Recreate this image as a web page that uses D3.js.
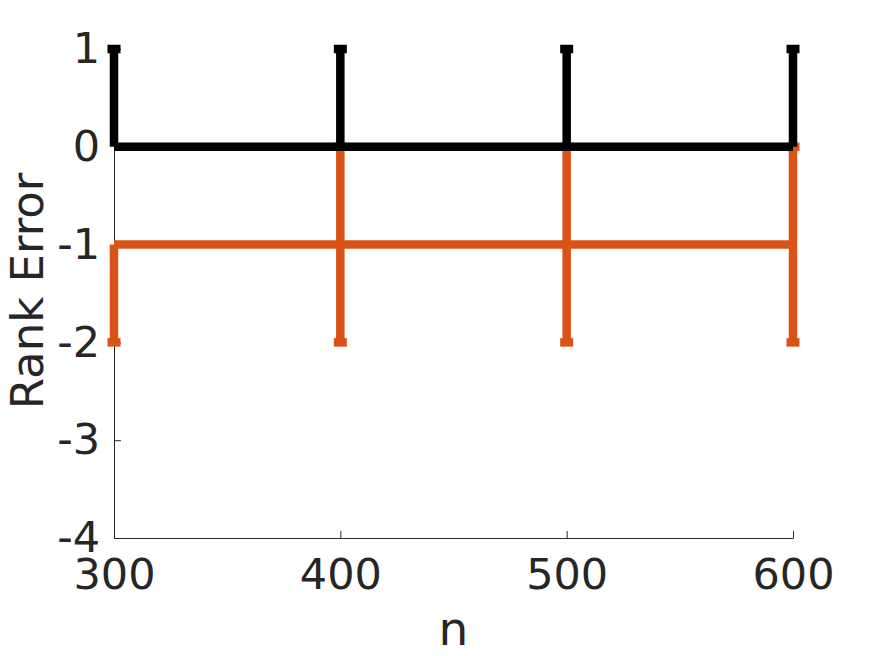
<!DOCTYPE html>
<html>
<head>
<meta charset="utf-8">
<script src="https://cdn.jsdelivr.net/npm/d3@7"></script>
<style>
  body { margin: 0; background: #fff; }
  .tick text { font-family: "DejaVu Sans", sans-serif; fill: #262626; }
  .label { font-family: "DejaVu Sans", sans-serif; fill: #262626; }
</style>
</head>
<body>
<div id="chart"></div>
<script>
const width = 875,
      height = 656,
      margin = {top: 49, right: 82, bottom: 118, left: 114};

const chartWidth = width - margin.left - margin.right,
      chartHeight = height - margin.top - margin.bottom;

// data
const nValues = [300, 400, 500, 600];
const xTicks = [300, 400, 500, 600];
const yTicks = [1, 0, -1, -2, -3, -4];

const blackMean = [0, 0, 0, 0];
const blackLower = [0, 0, 0, 0];
const blackUpper = [1, 1, 1, 1];

const orangeMean = [-1, -1, -1, -1];
const orangeLower = [1, 1, 1, 1];
const orangeUpper = [0, 1, 1, 1];

const series = [
  {color: '#D95319', mean: orangeMean, lower: orangeLower, upper: orangeUpper},
  {color: '#000000', mean: blackMean, lower: blackLower, upper: blackUpper}
];

const svg = d3.select('#chart').append('svg')
    .attr('width', width)
    .attr('height', height);

const chart = svg.append('g')
    .attr('transform', `translate(${margin.left}, ${margin.top})`);

const x = d3.scaleLinear().domain([300, 600]).range([0, chartWidth]);
const y = d3.scaleLinear().domain([-4, 1]).range([chartHeight, 0]);

const lw = 8.5, capHalf = 6.5;

// axes
const xAxis = d3.axisBottom(x)
    .tickValues(xTicks)
    .tickSizeInner(-7)
    .tickSizeOuter(0)
    .tickPadding(18);

const gx = chart.append('g')
    .attr('transform', `translate(0, ${chartHeight})`)
    .call(xAxis);
gx.selectAll('.tick text').style('font-size', '43px').attr('dy', '0.71em').attr('y', 20);

const yAxis = d3.axisLeft(y)
    .tickValues(yTicks)
    .tickSizeInner(-7)
    .tickSizeOuter(0)
    .tickPadding(14)
    .tickFormat(d3.format('d'));

const gy = chart.append('g').call(yAxis);
gy.selectAll('.tick text').style('font-size', '43px');

[gx, gy].forEach(g => {
  g.select('.domain').attr('stroke', '#262626').attr('stroke-width', 1);
  g.selectAll('.tick line').attr('stroke', '#262626').attr('stroke-width', 1);
});
gx.selectAll('.tick text').text(d => d);
gy.selectAll('.tick text').text(d => d < 0 ? '-' + Math.abs(d) : d);

// error bars
series.forEach(s => {
  const g = chart.append('g');
  const pts = nValues.map((n, i) => ({n, m: s.mean[i], lo: s.mean[i] - s.lower[i], hi: s.mean[i] + s.upper[i], l: s.lower[i], u: s.upper[i]}));

  g.append('path')
    .datum(pts)
    .attr('fill', 'none')
    .attr('stroke', s.color)
    .attr('stroke-width', lw)
    .attr('d', d3.line().x(d => x(d.n)).y(d => y(d.m)));

  g.selectAll('.bar')
    .data(pts)
    .enter().append('line')
    .attr('stroke', s.color)
    .attr('stroke-width', lw)
    .attr('x1', d => x(d.n)).attr('x2', d => x(d.n))
    .attr('y1', d => y(d.lo)).attr('y2', d => y(d.hi));

  const caps = [];
  pts.forEach(d => {
    if (d.l > 0) caps.push({n: d.n, v: d.lo});
    if (d.u > 0) caps.push({n: d.n, v: d.hi});
  });
  g.selectAll('.cap')
    .data(caps)
    .enter().append('line')
    .attr('stroke', s.color)
    .attr('stroke-width', lw)
    .attr('x1', d => x(d.n) - capHalf).attr('x2', d => x(d.n) + capHalf)
    .attr('y1', d => y(d.v)).attr('y2', d => y(d.v));
});

// labels
svg.append('text')
    .attr('class', 'label')
    .attr('x', margin.left + chartWidth / 2)
    .attr('y', 645)
    .attr('text-anchor', 'middle')
    .style('font-size', '47px')
    .text('n');

svg.append('text')
    .attr('class', 'label')
    .attr('transform', 'translate(43, 291) rotate(-90)')
    .attr('text-anchor', 'middle')
    .style('font-size', '45px')
    .text('Rank Error');
</script>
</body>
</html>
